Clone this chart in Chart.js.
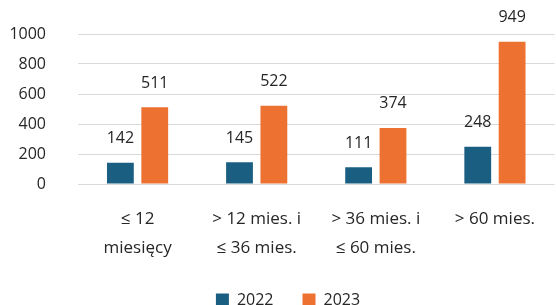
<!DOCTYPE html>
<html>
<head>
<meta charset="utf-8">
<script src="https://cdn.jsdelivr.net/npm/chart.js@4"></script>
<style>
html,body{margin:0;padding:0;background:#fff;}
#wrap{width:556px;height:305px;}
</style>
</head>
<body>
<div id="wrap"><canvas id="c" width="556" height="305"></canvas></div>
<script>
const categories = [["≤ 12", "miesięcy"], ["> 12 mies. i", "≤ 36 mies."], ["> 36 mies. i", "≤ 60 mies."], ["> 60 mies."]];
const seriesNames = ["2022", "2023"];
const values2022 = [142, 145, 111, 248];
const values2023 = [511, 522, 374, 949];
const yTicks = [0, 200, 400, 600, 800, 1000];
const colors = ["#1a5f82", "#ed7131"];

const FONT = "'Open Sans', 'Noto Sans', sans-serif";
const TXT = "#262626";

const labelPlugin = {
  id: 'valueLabels',
  afterInit(chart) {
    const lg = chart.legend;
    if (lg) {
      const orig = lg.fit.bind(lg);
      lg.fit = function () { orig(); this.height -= 13; };
    }
  },
  afterLayout(chart) {
    const lg = chart.legend;
    if (lg) { lg.left += 10; lg.right += 10; }
  },
  afterDatasetsDraw(chart) {
    const ctx = chart.ctx;
    ctx.save();
    ctx.font = "16px " + FONT;
    ctx.fillStyle = TXT;
    ctx.textAlign = 'center';
    ctx.textBaseline = 'middle';
    chart.data.datasets.forEach((ds, i) => {
      const meta = chart.getDatasetMeta(i);
      meta.data.forEach((bar, j) => {
        ctx.fillText(String(ds.data[j]), bar.x, bar.y - 24);
      });
    });
    ctx.restore();
  }
};

new Chart(document.getElementById('c'), {
  type: 'bar',
  data: {
    labels: categories,
    datasets: [
      { label: seriesNames[0], data: values2022, backgroundColor: colors[0] },
      { label: seriesNames[1], data: values2023, backgroundColor: colors[1] }
    ]
  },
  options: {
    responsive: false,
    animation: false,
    devicePixelRatio: 1,
    layout: { padding: { top: 34, right: 0, left: 0, bottom: 0 } },
    datasets: { bar: { categoryPercentage: 0.577, barPercentage: 0.78 } },
    scales: {
      x: {
        afterFit(axis) { axis.height = 79; },
        grid: { display: false, drawTicks: false },
        border: { display: false },
        ticks: { color: TXT, font: { family: FONT, size: 17, lineHeight: 29 / 17 }, padding: 21, maxRotation: 0, autoSkip: false }
      },
      y: {
        min: 0, max: 1000,
        afterBuildTicks(axis) { axis.ticks = yTicks.map(v => ({ value: v })); },
        afterFit(axis) { axis.width = 78; axis.paddingTop = 0; axis.paddingBottom = 0; },
        grid: { color: '#d9d9d9', lineWidth: 1, drawTicks: false },
        border: { display: false },
        ticks: { color: TXT, font: { family: FONT, size: 16 }, padding: 32, callback: v => String(v) }
      }
    },
    plugins: {
      legend: {
        position: 'bottom',
        labels: { color: TXT, font: { family: FONT, size: 16 }, boxWidth: 13, boxHeight: 13, padding: 29 }
      },
      tooltip: { enabled: false }
    }
  },
  plugins: [labelPlugin]
});
</script>
</body>
</html>
